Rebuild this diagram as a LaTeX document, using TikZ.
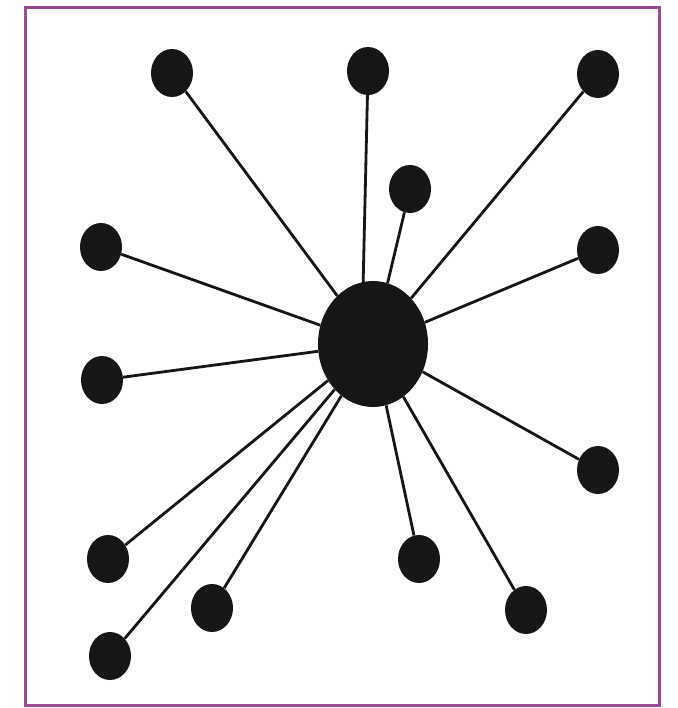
\documentclass[tikz,border=0pt]{standalone}
\usetikzlibrary{shapes.geometric}
\definecolor{frame}{RGB}{152,76,148}
\definecolor{ink}{RGB}{22,22,22}
\tikzset{
  leaf/.style={ellipse,fill=ink,draw=none,inner sep=0pt,minimum width=42pt,minimum height=48pt},
  hub/.style={ellipse,fill=ink,draw=none,inner sep=0pt,minimum width=110pt,minimum height=126pt},
  spoke/.style={draw=ink,line width=2.8pt}
}
\begin{document}
\begin{tikzpicture}[x=1pt,y=-1pt]
\useasboundingbox (0,0) rectangle (677,708);
\fill[white] (0,0) rectangle (677,708);
\draw[frame,line width=3pt] (25,8) rectangle (659,705);
\node[hub] (c) at (373,344) {};
\node[leaf] (n1) at (172,73) {};
\node[leaf] (n2) at (368,71) {};
\node[leaf] (n3) at (598,74) {};
\node[leaf] (n4) at (410,189) {};
\node[leaf] (n5) at (101,247) {};
\node[leaf] (n6) at (598,250) {};
\node[leaf] (n7) at (102,380) {};
\node[leaf] (n8) at (598,470) {};
\node[leaf] (n9) at (108,559) {};
\node[leaf] (n10) at (419,559) {};
\node[leaf] (n11) at (212,608) {};
\node[leaf] (n12) at (526,610) {};
\node[leaf] (n13) at (110,656) {};
\foreach \i in {1,3,4,5,6,7,8,9,10,11,12,13} {\draw[spoke] (n\i) -- (c);}
\draw[spoke] (n2) -- (c.99);
\end{tikzpicture}
\end{document}
